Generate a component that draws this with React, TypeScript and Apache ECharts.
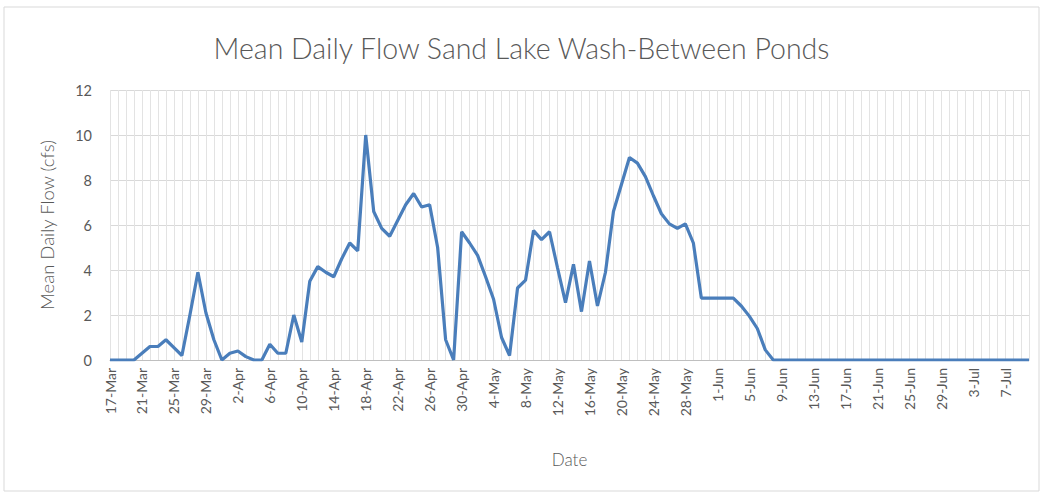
import React, { useEffect, useRef } from "react";
import * as echarts from "echarts";

const monthDays = (mon: string, from: number, to: number): string[] => {
  const out: string[] = [];
  for (let d = from; d <= to; d++) out.push(`${d}-${mon}`);
  return out;
};

const categories: string[] = [
  ...monthDays("Mar", 17, 31),
  ...monthDays("Apr", 1, 30),
  ...monthDays("May", 1, 31),
  ...monthDays("Jun", 1, 30),
  ...monthDays("Jul", 1, 10),
];

const flowMar = [0, 0, 0, 0, 0.3, 0.6, 0.6, 0.9, 0.55, 0.2, 2.0, 3.9, 2.1, 0.9, 0];
const flowApr = [
  0.3, 0.4, 0.15, 0, 0, 0.7, 0.3, 0.3, 2.0, 0.8, 3.5, 4.15, 3.9, 3.7, 4.5,
  5.2, 4.85, 10.0, 6.6, 5.85, 5.5, 6.2, 6.9, 7.4, 6.8, 6.9, 5.0, 0.9, 0, 5.7,
];
const flowMay = [
  5.2, 4.65, 3.7, 2.7, 1.0, 0.2, 3.2, 3.55, 5.75, 5.35, 5.7, 4.1, 2.55, 4.25, 2.15,
  4.4, 2.4, 3.9, 6.6, 7.8, 9.0, 8.75, 8.15, 7.3, 6.5, 6.05, 5.85, 6.05, 5.2, 2.75, 2.75,
];
const flowJun = [
  2.75, 2.75, 2.75, 2.4, 1.95, 1.4, 0.45, 0, 0, 0, 0, 0, 0, 0, 0,
  0, 0, 0, 0, 0, 0, 0, 0, 0, 0, 0, 0, 0, 0, 0,
];
const flowJul = [0, 0, 0, 0, 0, 0, 0, 0, 0, 0];

const flow = [...flowMar, ...flowApr, ...flowMay, ...flowJun, ...flowJul];

const yTicks = { min: 0, max: 12, interval: 2 };

const FONT = "Lato, 'Open Sans', sans-serif";
const TEXT = "#595959";

export default function App() {
  const ref = useRef<HTMLDivElement>(null);
  useEffect(() => {
    if (!ref.current) return;
    const chart = echarts.init(ref.current, undefined, { renderer: "svg" });
    chart.setOption({
      animation: false,
      backgroundColor: "#ffffff",
      title: {
        text: "Mean Daily Flow Sand Lake Wash-Between Ponds",
        left: "center",
        top: 28,
        textStyle: { fontFamily: FONT, fontSize: 28.5, fontWeight: 300, color: TEXT },
      },
      graphic: [
        {
          type: "rect",
          shape: { x: 4, y: 7, width: 1035, height: 484 },
          style: { fill: "none", stroke: "#d9d9d9", lineWidth: 1 },
          silent: true,
        },
      ],
      grid: { left: 110, right: 14, top: 90, bottom: 135, containLabel: false },
      xAxis: {
        type: "category",
        data: categories,
        boundaryGap: false,
        name: "Date",
        nameLocation: "middle",
        nameGap: 91,
        nameTextStyle: { fontFamily: FONT, fontSize: 17, fontWeight: 300, color: TEXT },
        axisLine: { show: true, lineStyle: { color: "#bfbfbf", width: 1 } },
        axisTick: { show: false },
        axisLabel: {
          interval: 3,
          rotate: 90,
          fontFamily: FONT,
          fontSize: 14,
          color: TEXT,
          margin: 8,
        },
        splitLine: { show: true, interval: 0, lineStyle: { color: "#e3e3e3", width: 1 } },
      },
      yAxis: {
        type: "value",
        min: yTicks.min,
        max: yTicks.max,
        interval: yTicks.interval,
        name: "Mean Daily Flow (cfs)",
        nameLocation: "middle",
        nameRotate: 90,
        nameGap: 54,
        nameTextStyle: { fontFamily: FONT, fontSize: 18.5, fontWeight: 300, color: TEXT },
        axisLine: { show: false },
        axisTick: { show: false },
        axisLabel: { fontFamily: FONT, fontSize: 14.5, color: TEXT, margin: 18 },
        splitLine: { show: true, lineStyle: { color: "#d9d9d9", width: 1 } },
      },
      series: [
        {
          type: "line",
          data: flow,
          showSymbol: false,
          symbol: "none",
          lineStyle: { color: "#4a7ebb", width: 3.2 },
          itemStyle: { color: "#4a7ebb" },
        },
      ],
    });
    return () => chart.dispose();
  }, []);
  return (
    <div
      ref={ref}
      style={{ position: "fixed", left: 0, top: 0, width: 1043, height: 495 }}
    />
  );
}
